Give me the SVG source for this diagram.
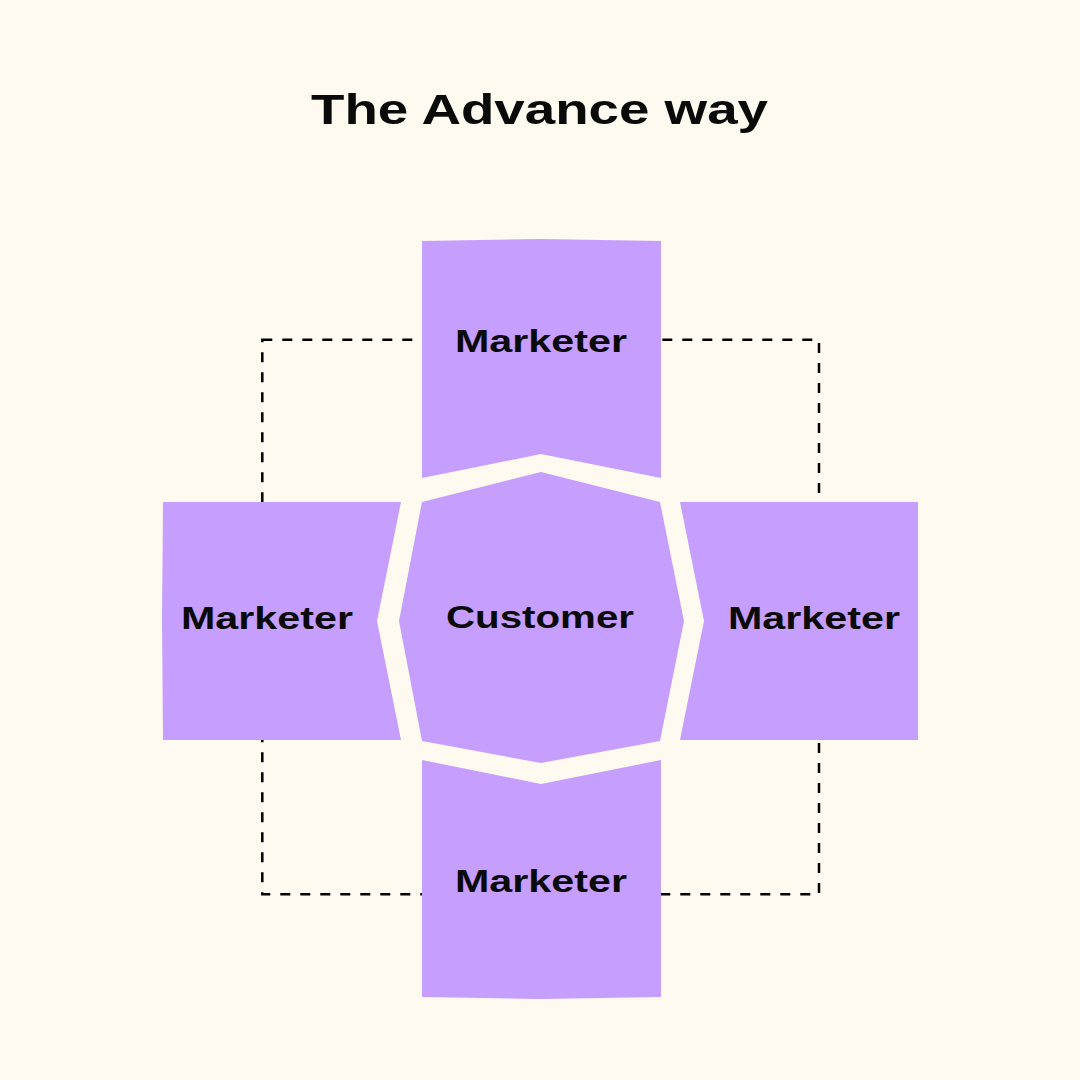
<svg xmlns="http://www.w3.org/2000/svg" width="1080" height="1080" viewBox="0 0 1080 1080">
<style>
.shape{fill:#C59EFE;}
.lbl{font-family:"Liberation Sans",Arial,sans-serif;font-weight:bold;font-size:31.5px;fill:#0A0A0A;}
.title{font-family:"Liberation Sans",Arial,sans-serif;font-weight:bold;font-size:43px;fill:#0A0A0A;}
.dash{fill:none;stroke:#000;stroke-width:2.5;stroke-dasharray:10 10;}
</style>
<rect x="0" y="0" width="1080" height="1080" fill="#FEFAEF"/>
<text class="title" x="311" y="124" textLength="457" lengthAdjust="spacingAndGlyphs">The Advance way</text>
<g id="connectors">
<rect class="dash" x="262.3" y="339.7" width="556.7" height="554.6"/>
</g>
<g id="marketer-top">
<polygon class="shape" points="422,241 541,239 661,241 661,478 541,454 422,478"/>
<text class="lbl" x="455" y="352" textLength="172" lengthAdjust="spacingAndGlyphs">Marketer</text>
</g>
<g id="marketer-bottom">
<polygon class="shape" points="422,760 541,784 661,760 661,997 541,999 422,997"/>
<text class="lbl" x="455" y="892" textLength="172" lengthAdjust="spacingAndGlyphs">Marketer</text>
</g>
<g id="marketer-left">
<polygon class="shape" points="163,502 401,502 377,621 401,740 163,740 162,621"/>
<text class="lbl" x="181" y="629" textLength="172" lengthAdjust="spacingAndGlyphs">Marketer</text>
</g>
<g id="marketer-right">
<polygon class="shape" points="680,502 918,502 918,740 680,740 704,621"/>
<text class="lbl" x="728" y="629" textLength="172" lengthAdjust="spacingAndGlyphs">Marketer</text>
</g>
<g id="customer">
<polygon class="shape" points="541,472 660,502 684,621 660,741 541,763 422,741 399,621 422,502"/>
<text class="lbl" x="446" y="628" textLength="188" lengthAdjust="spacingAndGlyphs">Customer</text>
</g>
</svg>
